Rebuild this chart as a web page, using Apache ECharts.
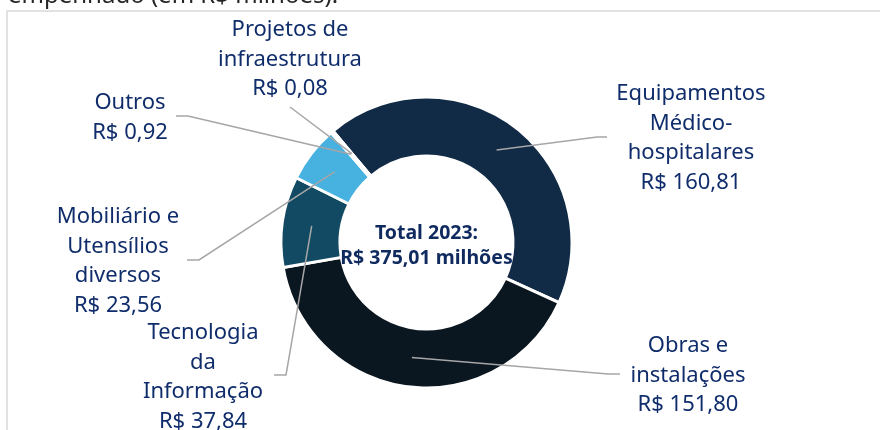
<!DOCTYPE html>
<html>
<head>
<meta charset="utf-8">
<script src="https://cdn.jsdelivr.net/npm/echarts@6/dist/echarts.min.js"></script>
<style>
  html, body { margin: 0; padding: 0; background: #fff; }
  #main { width: 880px; height: 430px; }
</style>
</head>
<body>
<div id="main"></div>
<script>
// categorias (quebra de linha igual ao rótulo original)
var categories = [
  'Equipamentos\nMédico-\nhospitalares',
  'Obras e\ninstalações',
  'Tecnologia\nda\nInformação',
  'Mobiliário e\nUtensílios\ndiversos',
  'Outros',
  'Projetos de\ninfraestrutura'
];
// valores empenhados em R$ milhões
var values = [160.81, 151.80, 37.84, 23.56, 0.92, 0.08];
var colors = ['#112a45', '#0a1620', '#134a63', '#47b1e0', '#2e75b6', '#9dc3e6'];

// posição dos rótulos: [x centro, y topo, x cotovelo, y cotovelo, x fim, y fim]
var labelPos = [
  [691, 79, 597, 137, 607, 137],
  [688, 331, 608, 374, 620, 374],
  [203, 318, 286, 375, 274, 375],
  [118, 202, 199, 260, 187, 260],
  [130, 88, 188, 116, 176, 116],
  [290, 15, 290, 107, 290, 107]
];

var CX = 426.5, CY = 242.5;

function fmt(v) {
  return 'R$ ' + v.toFixed(2).replace('.', ',');
}

var total = 0;
for (var i = 0; i < values.length; i++) total += values[i];

var pieData = [];
var labelData = [];
for (var i = 0; i < values.length; i++) {
  pieData.push({ name: categories[i], value: values[i], itemStyle: { color: colors[i] } });
  labelData.push({ name: categories[i], value: values[i] });
}

var myChart = echarts.init(document.getElementById('main'));

// anel de rótulos por cima do anel colorido, para as linhas ficarem visíveis
myChart.setOption({
  animation: false,
  graphic: [
    {
      type: 'rect',
      shape: { x: 7, y: 11, width: 900, height: 460 },
      style: { fill: 'none', stroke: '#d9d9d9', lineWidth: 1.5 },
      silent: true
    },
    {
      type: 'text',
      style: {
        text: 'empenhado (em R$ milhões).',
        x: 8, y: 8,
        textVerticalAlign: 'bottom',
        fill: '#262626',
        font: '24px "Noto Sans"'
      },
      silent: true
    },
    {
      type: 'text',
      z: 10,
      style: {
        text: 'Total 2023:\n' + fmt(total) + ' milhões',
        x: CX, y: 246,
        textAlign: 'center',
        textVerticalAlign: 'middle',
        fill: '#0f2a5e',
        font: 'bold 19.5px "Noto Sans"',
        lineHeight: 25
      },
      silent: true
    }
  ],
  series: [
    {
      type: 'pie',
      z: 2,
      center: [CX, CY],
      radius: [86.5, 145.5],
      startAngle: 130,
      clockwise: true,
      itemStyle: { borderColor: '#fff', borderWidth: 3 },
      emphasis: { disabled: true },
      label: { show: false },
      labelLine: { show: false },
      data: pieData
    },
    {
      type: 'pie',
      z: 3,
      silent: true,
      center: [CX, CY],
      radius: [86.5, 145.5],
      startAngle: 130,
      clockwise: true,
      avoidLabelOverlap: false,
      itemStyle: { color: 'rgba(0,0,0,0)', borderWidth: 0 },
      emphasis: { disabled: true },
      label: {
        show: true,
        position: 'outside',
        color: '#102d6b',
        fontFamily: 'Noto Sans',
        fontSize: 22,
        lineHeight: 29.5,
        align: 'center',
        formatter: function (p) {
          return p.name + '\n' + fmt(p.value);
        }
      },
      labelLine: {
        show: true,
        lineStyle: { color: '#a6a6a6', width: 1.5 }
      },
      labelLayout: function (params) {
        var pos = labelPos[params.dataIndex];
        var ax, ay;
        var lay = null;
        try {
          lay = myChart.getModel().getSeriesByIndex(1).getData().getItemLayout(params.dataIndex);
        } catch (e) { lay = null; }
        if (lay && lay.r != null) {
          var mid = (lay.startAngle + lay.endAngle) / 2;
          var rm = (lay.r + lay.r0) / 2;
          ax = lay.cx + rm * Math.cos(mid);
          ay = lay.cy + rm * Math.sin(mid);
        } else {
          var p0 = params.labelLinePoints[0];
          var dx = p0[0] - CX, dy = p0[1] - CY;
          var d = Math.sqrt(dx * dx + dy * dy);
          ax = CX + dx / d * 116;
          ay = CY + dy / d * 116;
        }
        return {
          x: pos[0],
          y: pos[1],
          align: 'center',
          verticalAlign: 'top',
          labelLinePoints: [[ax, ay], [pos[2], pos[3]], [pos[4], pos[5]]]
        };
      },
      data: labelData
    }
  ]
});
</script>
</body>
</html>
